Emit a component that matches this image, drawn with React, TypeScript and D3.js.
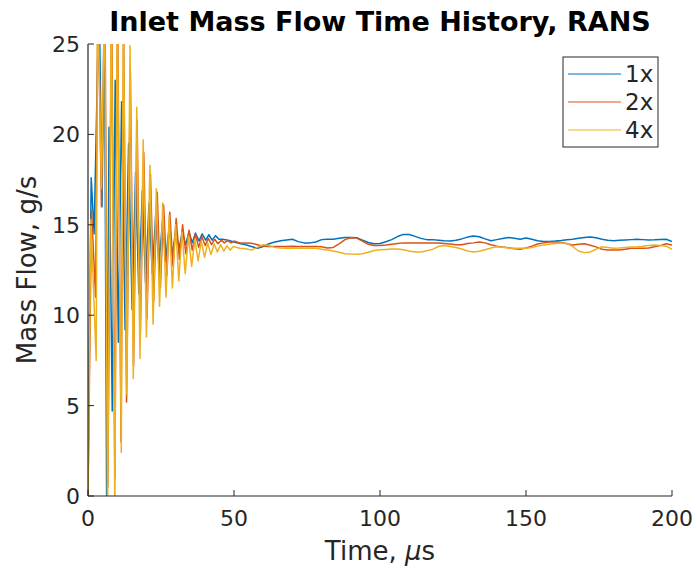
import React from "react";
import * as d3 from "d3";

// ---- data ----
const seriesNames = ["1x", "2x", "4x"];
const xTicks = [0, 50, 100, 150, 200];
const yTicks = [0, 5, 10, 15, 20, 25];

const trans1xTime = [0, 0.5, 1.1, 2.1, 3.8, 4.8, 5.6, 6.4, 7.2, 8.3, 9.3, 10.4, 11.5, 12.7, 13.9, 15.1, 16.3, 17.4, 18.6, 19.7, 20.9, 22.0, 23.2, 24.3, 25.5, 26.6, 27.8, 28.9, 30.0, 31.2, 32.3, 33.4, 34.6, 35.7, 36.8, 38.0, 39.1, 40.3, 41.4, 42.5, 43.7, 44.8, 46, 48, 50];
const trans1xFlow = [0, 9, 17.6, 14.5, 28, 16, 28, -1, 20.4, 4.7, 23.0, 8.5, 21.8, 9.2, 19.5, 10.3, 17.9, 11.2, 16.9, 11.8, 16.2, 12.3, 15.6, 12.7, 15.2, 13.0, 14.9, 13.3, 14.7, 13.7, 14.6, 13.9, 14.6, 14.0, 14.55, 14.1, 14.5, 14.15, 14.45, 14.15, 14.4, 14.2, 14.2, 14.15, 14.05];

const trans2xTime = [0, 1.2, 2.6, 3.4, 4.6, 5.8, 6.8, 8.1, 9.2, 10.1, 11.3, 12.2, 13.2, 14.5, 15.6, 16.8, 17.9, 19.1, 20.2, 21.4, 22.5, 23.7, 24.8, 25.9, 27.0, 28.0, 29.1, 30.2, 31.3, 32.4, 33.5, 34.6, 35.7, 36.8, 37.9, 39.0, 40.1, 41.2, 42.3, 43.4, 44.5, 45.6, 46.7, 47.8, 49.0, 50.0];
const trans2xFlow = [0, 15.8, 11, 28, 16, 28, 0.5, 28, 1.0, 28, 3.0, 26, 5.2, 23.5, 7.2, 20.8, 8.8, 19.0, 9.8, 17.8, 10.8, 16.8, 11.5, 16.1, 12.2, 15.7, 12.7, 15.35, 13.1, 15.0, 13.4, 14.7, 13.6, 14.5, 13.75, 14.35, 13.85, 14.25, 13.9, 14.2, 13.95, 14.15, 14.0, 14.12, 14.0, 14.1];

const trans4xTime = [0, 1.0, 2.8, 3.3, 4.6, 5.7, 6.7, 8.0, 9.2, 10.0, 11.4, 12.1, 13.3, 14.4, 15.5, 16.7, 17.8, 18.9, 20.0, 21.2, 22.3, 23.4, 24.5, 25.6, 26.7, 27.8, 28.9, 30.0, 31.1, 32.2, 33.3, 34.4, 35.5, 36.6, 37.7, 38.8, 39.9, 41.0, 42.1, 43.2, 44.3, 45.4, 46.5, 47.6, 48.7, 49.8];
const trans4xFlow = [0, 15.3, 7.5, 28, 17, 28, -1, 28, -1, 28, 2.4, 27, 5.6, 24.9, 6.5, 21.5, 7.6, 19.7, 8.8, 18.3, 9.5, 17.0, 10.5, 16.2, 11.0, 15.5, 11.5, 15.0, 11.9, 14.6, 12.3, 14.4, 12.7, 14.2, 13.0, 14.1, 13.2, 14.0, 13.35, 13.95, 13.5, 13.9, 13.55, 13.85, 13.6, 13.8];

const steadyTime = [52, 54, 56, 58, 60, 62, 64, 66, 68, 70, 72, 74, 76, 78, 80, 82, 84, 86, 88, 90, 92, 94, 96, 98, 100, 102, 104, 106, 108, 110, 112, 114, 116, 118, 120, 122, 124, 126, 128, 130, 132, 134, 136, 138, 140, 142, 144, 146, 148, 150, 152, 154, 156, 158, 160, 162, 164, 166, 168, 170, 172, 174, 176, 178, 180, 182, 184, 186, 188, 190, 192, 194, 196, 198, 200];
const steady1xFlow = [13.97, 13.9, 13.8, 13.7, 13.8, 13.95, 14.05, 14.12, 14.16, 14.2, 14.07, 14.0, 14.0, 14.05, 14.18, 14.2, 14.2, 14.25, 14.3, 14.3, 14.28, 14.15, 14.02, 13.95, 13.97, 14.06, 14.18, 14.35, 14.47, 14.46, 14.36, 14.25, 14.18, 14.18, 14.15, 14.12, 14.1, 14.14, 14.22, 14.32, 14.38, 14.34, 14.22, 14.12, 14.18, 14.24, 14.3, 14.25, 14.2, 14.27, 14.2, 14.12, 14.08, 14.08, 14.1, 14.13, 14.17, 14.2, 14.25, 14.3, 14.33, 14.28, 14.2, 14.14, 14.12, 14.14, 14.16, 14.18, 14.2, 14.18, 14.16, 14.17, 14.19, 14.2, 14.07];
const steady2xFlow = [14.0, 14.0, 13.98, 13.9, 13.82, 13.8, 13.8, 13.8, 13.8, 13.82, 13.8, 13.8, 13.8, 13.8, 13.78, 13.72, 13.75, 13.95, 14.18, 14.28, 14.27, 14.1, 13.92, 13.85, 13.86, 13.88, 13.92, 13.96, 14.0, 14.0, 14.0, 14.0, 14.0, 14.0, 14.0, 13.97, 13.94, 13.9, 13.9, 13.96, 14.0, 14.05, 14.0, 13.9, 13.82, 13.77, 13.73, 13.68, 13.65, 13.72, 13.82, 13.94, 14.0, 14.05, 14.06, 14.02, 13.95, 13.88, 13.93, 13.95, 13.87, 13.78, 13.65, 13.6, 13.6, 13.6, 13.65, 13.7, 13.7, 13.7, 13.72, 13.78, 13.85, 13.95, 13.88];
const steady4xFlow = [13.7, 13.68, 13.6, 13.75, 13.9, 13.85, 13.75, 13.72, 13.7, 13.72, 13.7, 13.7, 13.72, 13.7, 13.65, 13.6, 13.55, 13.48, 13.4, 13.38, 13.37, 13.4, 13.48, 13.58, 13.62, 13.64, 13.66, 13.66, 13.62, 13.55, 13.5, 13.5, 13.56, 13.64, 13.8, 13.86, 13.8, 13.74, 13.66, 13.55, 13.5, 13.54, 13.62, 13.72, 13.78, 13.76, 13.72, 13.7, 13.7, 13.7, 13.75, 13.82, 13.88, 13.93, 13.96, 14.0, 13.98, 13.8, 13.55, 13.46, 13.5, 13.65, 13.78, 13.74, 13.7, 13.72, 13.75, 13.77, 13.79, 13.82, 13.86, 13.88, 13.85, 13.82, 13.64];

const colors = ["#0072BD", "#D95319", "#EDB120"];

// ---- layout ----
const W = 697, H = 569;
const X0 = 88, X1 = 672, Y0 = 496, Y1 = 44;
const TXT = "#262626";
const FONT = "'DejaVu Sans', sans-serif";

function build(tt: number[], tv: number[], st: number[], sv: number[]) {
  const pts: [number, number][] = [];
  tt.forEach((t, i) => pts.push([t, tv[i]]));
  st.forEach((t, i) => pts.push([t, sv[i]]));
  return pts;
}

export default function App() {
  const x = d3.scaleLinear().domain([0, 200]).range([X0, X1]);
  const y = d3.scaleLinear().domain([0, 25]).range([Y0, Y1]);
  const line = d3.line<[number, number]>().x((d) => x(d[0])).y((d) => y(d[1]));

  const series = [
    build(trans1xTime, trans1xFlow, steadyTime, steady1xFlow),
    build(trans2xTime, trans2xFlow, steadyTime, steady2xFlow),
    build(trans4xTime, trans4xFlow, steadyTime, steady4xFlow),
  ];

  const lgX = 563, lgY = 57, lgW = 95, lgH = 90;

  return (
    <svg width={W} height={H} style={{ position: "absolute", left: 0, top: 0, background: "#fff" }} fontFamily={FONT}>
      <defs>
        <clipPath id="plotclip">
          <rect x={X0} y={Y1} width={X1 - X0} height={Y0 - Y1} />
        </clipPath>
      </defs>
      <g clipPath="url(#plotclip)">
        {series.map((s, i) => (
          <path key={i} d={line(s) || ""} fill="none" stroke={colors[i]} strokeWidth={1.5} strokeLinejoin="round" />
        ))}
      </g>
      {/* axes */}
      <line x1={X0} x2={X0} y1={Y1} y2={Y0} stroke={TXT} strokeWidth={1.2} />
      <line x1={X0} x2={X1} y1={Y0} y2={Y0} stroke={TXT} strokeWidth={1.2} />
      {yTicks.map((t) => (
        <g key={"y" + t}>
          <line x1={X0} x2={X0 + 6} y1={y(t)} y2={y(t)} stroke={TXT} />
          <text x={X0 - 8} y={y(t)} dy="0.36em" textAnchor="end" fontSize={22} fill={TXT}>{t}</text>
        </g>
      ))}
      {xTicks.map((t) => (
        <g key={"x" + t}>
          <line x1={x(t)} x2={x(t)} y1={Y0} y2={Y0 - 6} stroke={TXT} />
          <text x={x(t)} y={Y0 + 30} textAnchor="middle" fontSize={22} fill={TXT}>{t}</text>
        </g>
      ))}
      <text x={(X0 + X1) / 2} y={560} textAnchor="middle" fontSize={26} fill={TXT}>
        Time, <tspan fontStyle="italic">μ</tspan>s
      </text>
      <text transform={`translate(36,${(Y0 + Y1) / 2}) rotate(-90)`} textAnchor="middle" fontSize={26} fill={TXT}>
        Mass Flow, g/s
      </text>
      <text x={(X0 + X1) / 2} y={31} textAnchor="middle" fontSize={27} fontWeight="bold" fill="#000">
        Inlet Mass Flow Time History, RANS
      </text>
      {/* legend */}
      <rect x={lgX} y={lgY} width={lgW} height={lgH} fill="#fff" stroke={TXT} strokeWidth={1} />
      {seriesNames.map((n, i) => (
        <g key={n}>
          <line x1={lgX + 5} x2={lgX + 58} y1={lgY + 17 + i * 28} y2={lgY + 17 + i * 28} stroke={colors[i]} strokeWidth={1.2} />
          <text x={lgX + 62} y={lgY + 17 + i * 28} dy="0.36em" fontSize={23} fill={TXT}>{n}</text>
        </g>
      ))}
    </svg>
  );
}
